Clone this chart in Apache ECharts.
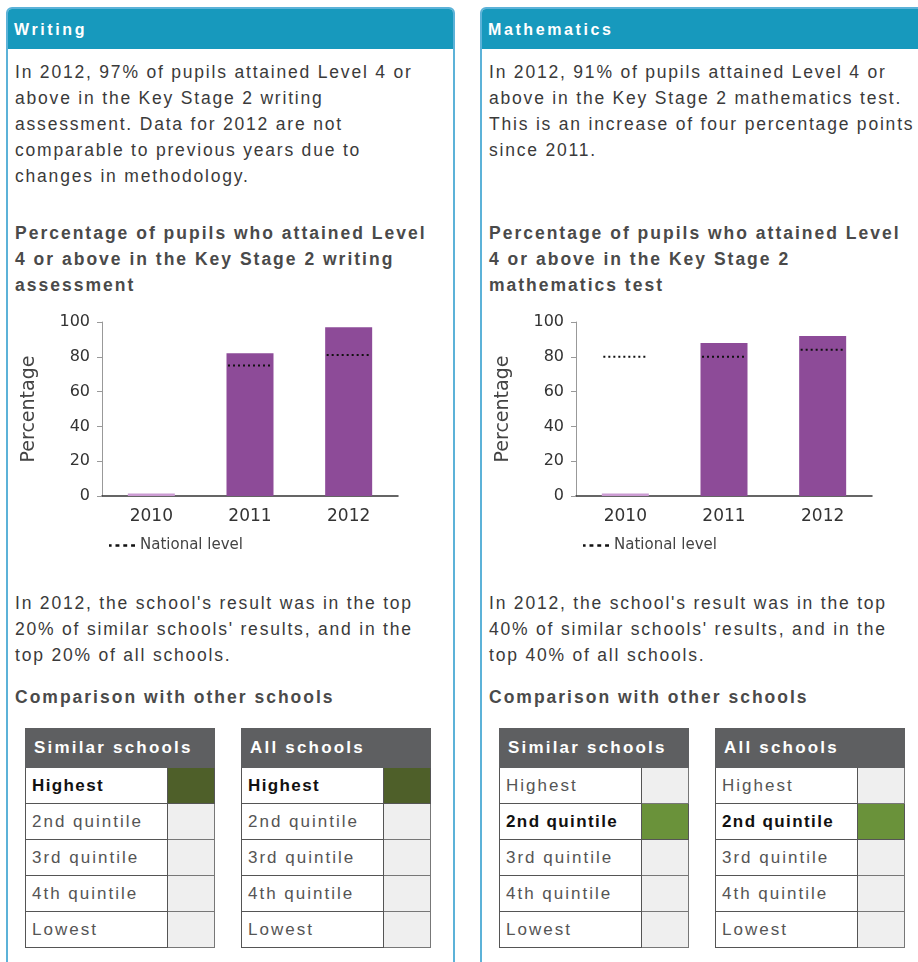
<!DOCTYPE html>
<html>
<head>
<meta charset="utf-8">
<script src="https://cdn.jsdelivr.net/npm/echarts@6/dist/echarts.min.js"></script>
<style>
  body { margin: 0; width: 918px; height: 962px; overflow: hidden; background: #fff;
         font-family: "Liberation Sans", Arial, sans-serif; position: relative; }
  .panel { position: absolute; top: 7px; width: 449px; height: 970px; box-sizing: border-box;
           border: 2px solid #5cb2d8; border-radius: 6px 6px 0 0; }
  .head { position: absolute; left: 0; top: 0; right: 0; height: 40px; background: #1799bd;
          color: #fff; font-weight: bold; font-size: 16px; line-height: 42px; padding-left: 6px;
          border-radius: 4px 4px 0 0; letter-spacing: 2.6px; }
  .txt { position: absolute; font-size: 17.5px; line-height: 26px; color: #3a3a3a; letter-spacing: 1.8px; white-space: nowrap; }
  .bold { font-weight: bold; color: #4a4a4a; letter-spacing: 2px; }
  .chart { position: absolute; top: 300px; width: 460px; height: 262px; }
  table { position: absolute; top: 728px; border-collapse: collapse; font-size: 17px; }
  th { background: #5e5f61; color: #fff; text-align: left; font-weight: bold; height: 38px;
       padding: 0 0 0 8px; letter-spacing: 2.2px; border: 1px solid #5e5f61; white-space: nowrap; }
  td { height: 35px; border: 1.5px solid #555; padding: 0 0 0 6px; color: #555; letter-spacing: 2px; white-space: nowrap; }
  td.sw { padding: 0; background: #efefef; border-color: #777; }
  tr.on td { color: #111; font-weight: bold; letter-spacing: 1.4px; }
</style>
</head>
<body>
<script>
// 年份与数据
const years = ['2010', '2011', '2012'];
const writingSchool = [1.5, 82, 97];
const writingNational = [null, 75, 81];
const mathsSchool = [1.5, 88, 92];
const mathsNational = [80, 80, 84];

// 五分位表
const quintiles = ['Highest', '2nd quintile', '3rd quintile', '4th quintile', 'Lowest'];
const writingBands = ['Highest', 'Highest'];       // similar, all
const mathsBands = ['2nd quintile', '2nd quintile'];

const bandColors = { 'Highest': '#4e5f29', '2nd quintile': '#6a923a' };

const panels = [
  {
    x: 0, title: 'Writing', school: writingSchool, national: writingNational, bands: writingBands,
    intro: ['In 2012, 97% of pupils attained Level 4 or', 'above in the Key Stage 2 writing',
            'assessment. Data for 2012 are not', 'comparable to previous years due to', 'changes in methodology.'],
    chartTitle: ['Percentage of pupils who attained Level', '4 or above in the Key Stage 2 writing', 'assessment'],
    result: ["In 2012, the school's result was in the top", "20% of similar schools' results, and in the", 'top 20% of all schools.']
  },
  {
    x: 474, title: 'Mathematics', school: mathsSchool, national: mathsNational, bands: mathsBands,
    intro: ['In 2012, 91% of pupils attained Level 4 or', 'above in the Key Stage 2 mathematics test.',
            'This is an increase of four percentage points', 'since 2011.'],
    chartTitle: ['Percentage of pupils who attained Level', '4 or above in the Key Stage 2', 'mathematics test'],
    result: ["In 2012, the school's result was in the top", "40% of similar schools' results, and in the", 'top 40% of all schools.']
  }
];

function addText(lines, left, top, cls) {
  const d = document.createElement('div');
  d.className = 'txt ' + (cls || '');
  d.style.left = left + 'px';
  d.style.top = top + 'px';
  d.innerHTML = lines.join('<br>');
  document.body.appendChild(d);
}

function addTable(name, band, left) {
  const t = document.createElement('table');
  t.style.left = left + 'px';
  let html = '<tr><th colspan="2" style="width:180px">' + name + '</th></tr>';
  quintiles.forEach(q => {
    const on = q === band;
    html += '<tr class="' + (on ? 'on' : '') + '"><td style="width:134px">' + q + '</td>' +
      '<td class="sw" style="width:46px;' + (on ? 'background:' + bandColors[q] + ';border-color:#555' : '') + '"></td></tr>';
  });
  t.innerHTML = html;
  document.body.appendChild(t);
}

panels.forEach(p => {
  const panel = document.createElement('div');
  panel.className = 'panel';
  panel.style.left = (p.x + 6) + 'px';
  panel.innerHTML = '<div class="head">' + p.title + '</div>';
  document.body.appendChild(panel);

  addText(p.intro, p.x + 15, 59);
  addText(p.chartTitle, p.x + 15, 220, 'bold');
  addText(p.result, p.x + 15, 590);
  addText(['Comparison with other schools'], p.x + 15, 684, 'bold');

  addTable('Similar schools', p.bands[0], p.x + 25);
  addTable('All schools', p.bands[1], p.x + 241);

  const box = document.createElement('div');
  box.className = 'chart';
  box.style.left = (p.x - 4) + 'px';
  document.body.appendChild(box);
  const chart = echarts.init(box);

  chart.setOption({
    animation: false,
    textStyle: { fontFamily: '"DejaVu Sans", sans-serif' },
    grid: { left: 106, top: 22, width: 296, height: 174 },
    legend: {
      data: [{ name: 'National level', icon: 'path://M0,0h2v2h-2z M5,0h3v2h-3z M11,0h3v2h-3z M17,0h3v2h-3z' }],
      left: 108, top: 233, itemWidth: 26, itemHeight: 3, itemGap: 4,
      textStyle: { fontSize: 15, color: '#444' }
    },
    xAxis: {
      type: 'category',
      data: years,
      axisLine: { lineStyle: { color: '#333', width: 1.5 } },
      axisTick: { alignWithLabel: true, length: 5, lineStyle: { color: '#999' } },
      axisLabel: { fontSize: 17, color: '#333', margin: 12 }
    },
    yAxis: {
      type: 'value',
      min: 0, max: 100, interval: 20,
      name: 'Percentage',
      nameLocation: 'middle',
      nameGap: 63,
      nameTextStyle: { fontSize: 19, color: '#444' },
      axisLine: { show: true, lineStyle: { color: '#999' } },
      axisTick: { show: true, length: 5, lineStyle: { color: '#999' } },
      axisLabel: { fontSize: 16, color: '#333', margin: 12 },
      splitLine: { show: false }
    },
    series: [
      {
        name: 'School',
        type: 'bar',
        data: p.school,
        barWidth: 47,
        itemStyle: {
          color: params => params.value < 5 ? '#cc9cd3' : '#8d4b98'
        }
      },
      {
        name: 'National level',
        type: 'custom',
        itemStyle: { color: '#111' },
        data: p.national.map((v, i) => [i, v]),
        renderItem: function(params, api) {
          const v = api.value(1);
          if (v == null || isNaN(v)) return null;
          const c = api.coord([api.value(0), v]);
          return {
            type: 'line',
            shape: { x1: c[0] - 22, y1: c[1], x2: c[0] + 22, y2: c[1] },
            style: { stroke: '#111', lineWidth: 2, lineDash: [2, 3] }
          };
        },
        z: 5
      }
    ]
  });
});
</script>
</body>
</html>
